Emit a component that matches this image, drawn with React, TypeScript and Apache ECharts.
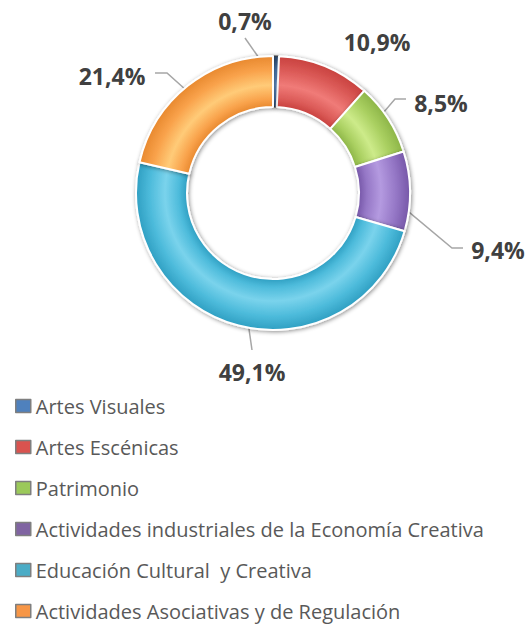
import React, { useEffect, useRef } from "react";
import * as echarts from "echarts";

const categories = [
  "Artes Visuales",
  "Artes Escénicas",
  "Patrimonio",
  "Actividades industriales de la Economía Creativa",
  "Educación Cultural  y Creativa",
  "Actividades Asociativas y de Regulación",
];
const values = [0.7, 10.9, 8.5, 9.4, 49.1, 21.4];

// [dark, light, mid] tones per slice
const palette = [
  ["#2E4A6E", "#6A9AD6", "#4F81BD"],
  ["#C8413E", "#F07B78", "#DB5A57"],
  ["#8DB548", "#CDEB8A", "#A9CF60"],
  ["#7657A8", "#B49AE0", "#9577C6"],
  ["#2F9FC2", "#7AD3EC", "#4DBBDB"],
  ["#E8892F", "#FFCB78", "#F9A24B"],
];
const legendColors = ["#4F81BD", "#D9534F", "#9BC95A", "#8064A2", "#4BACC6", "#F79646"];

// layout (pixels) of the chart
const CX = 273;
const CY = 193;
const R_IN = 86;
const R_OUT = 137;
// label centres and leader-line elbows (annotation layout)
const labelPos = [
  [245, 21],
  [377, 42],
  [441, 103],
  [498, 250],
  [252, 372],
  [112, 76],
];
const elbowPos = [
  [245, 38],
  null,
  [395, 99],
  [452, 248],
  [252, 350],
  [167, 73],
];
const linePos = [
  [245, 38],
  null,
  [406, 99],
  [463, 248],
  [252, 350],
  [155, 73],
];

function midPoint(i: number) {
  const total = values.reduce((a, b) => a + b, 0);
  let cum = 0;
  for (let k = 0; k < i; k++) cum += values[k];
  const frac = (cum + values[i] / 2) / total;
  const ang = frac * Math.PI * 2;
  const rm = (R_IN + R_OUT) / 2;
  return [CX + rm * Math.sin(ang), CY - rm * Math.cos(ang)];
}

export default function App() {
  const ref = useRef<HTMLDivElement>(null);
  useEffect(() => {
    const chart = echarts.init(ref.current!, null, { renderer: "svg" });
    const inFrac = R_IN / R_OUT;
    const grad = (p: string[]) =>
      new echarts.graphic.RadialGradient(
        CX,
        CY,
        R_OUT,
        [
          { offset: inFrac, color: p[0] },
          { offset: inFrac + 0.06, color: p[2] },
          { offset: inFrac + 0.16, color: p[1] },
          { offset: 0.9, color: p[2] },
          { offset: 1, color: p[0] },
        ],
        true
      );
    chart.setOption({
      animation: false,
      backgroundColor: "#ffffff",
      legend: {
        orient: "vertical",
        left: 15,
        top: 396,
        height: 280,
        padding: 0,
        itemGap: 21,
        itemWidth: 15,
        itemHeight: 13,
        icon: "rect",
        selectedMode: false,
        textStyle: {
          fontFamily: "Open Sans",
          fontSize: 20,
          lineHeight: 20,
          color: "#595959",
        },
        data: categories.map((c, i) => ({
          name: c,
          itemStyle: {
            color: legendColors[i],
            borderColor: "#7f7f7f",
            borderWidth: 1.5,
          },
        })),
      },
      series: [
        {
          type: "pie",
          center: [CX, CY],
          radius: [R_IN, R_OUT],
          startAngle: 90,
          clockwise: true,
          avoidLabelOverlap: false,
          itemStyle: {
            borderColor: "#ffffff",
            borderWidth: 2,
            shadowBlur: 4,
            shadowOffsetX: 1,
            shadowOffsetY: 1,
            shadowColor: "rgba(0,0,0,0.45)",
          },
          label: {
            show: true,
            position: "outside",
            fontFamily: "Open Sans",
            fontWeight: "bold",
            fontSize: 23,
            color: "#404040",
            formatter: (p: any) => p.value.toFixed(1).replace(".", ",") + "%",
          },
          labelLine: {
            show: true,
            length: 18,
            length2: 12,
            lineStyle: { color: "#a6a6a6", width: 1.5 },
          },
          labelLayout: (params: any) => {
            const i = params.dataIndex;
            const pos = labelPos[i];
            const out: any = {
              x: pos[0],
              y: pos[1],
              align: "center",
              verticalAlign: "middle",
            };
            if (elbowPos[i]) {
              out.labelLinePoints = [midPoint(i), elbowPos[i], linePos[i]];
            }
            return out;
          },
          data: categories.map((c, i) => ({
            name: c,
            value: values[i],
            itemStyle:
              i === 0
                ? { color: grad(palette[i]), borderColor: "#3a3a3a", borderWidth: 1 }
                : { color: grad(palette[i]) },
            labelLine: i === 1 ? { show: false } : undefined,
          })),
        },
      ],
    });
    return () => chart.dispose();
  }, []);
  return (
    <div
      ref={ref}
      style={{ position: "fixed", left: 0, top: 0, width: 528, height: 624 }}
    />
  );
}
